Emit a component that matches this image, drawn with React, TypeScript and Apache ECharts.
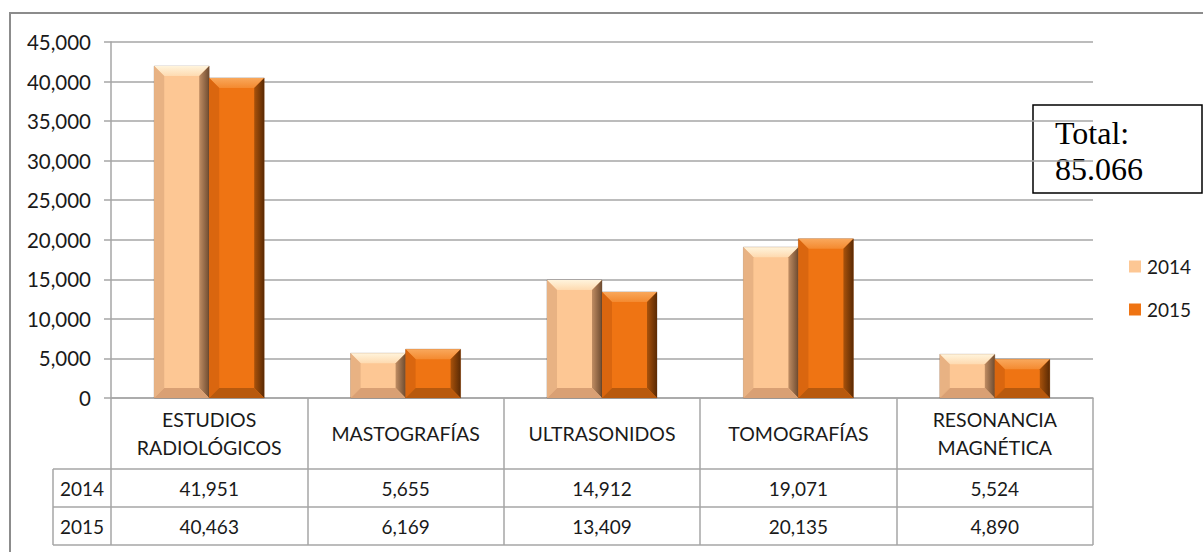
import React, { useEffect, useRef } from "react";
import * as echarts from "echarts";

const categories = ["ESTUDIOS\nRADIOLÓGICOS", "MASTOGRAFÍAS", "ULTRASONIDOS", "TOMOGRAFÍAS", "RESONANCIA\nMAGNÉTICA"];
const years = ["2014", "2015"];
const values2014 = [41951, 5655, 14912, 19071, 5524];
const values2015 = [40463, 6169, 13409, 20135, 4890];
const yMax = 45000;
const yInterval = 5000;
const totalLabel = "Total:";

const W = 1203;
const H = 552;
const GRID_LEFT = 111;
const GRID_RIGHT_X = 1093;
const GRID_TOP = 42;
const GRID_BOTTOM_Y = 398;
const HEADER_H = 71;
const ROW_H = 38;
const ROW_LABEL_X = 53;
const FONT = "Lato, 'Noto Sans', sans-serif";
const LINE = "#a6a6a6";

const fmtComma = (n: number) => String(n).replace(/\B(?=(\d{3})+(?!\d))/g, ",");
const fmtDot = (n: number) => String(n).replace(/\B(?=(\d{3})+(?!\d))/g, ".");

type Pal = { face: string; top: string; topEnd: string; left: string; right: string; rightEnd: string; bottom: string };
const palettes: Pal[] = [
  { face: "#fdc794", top: "#fff4dc", topEnd: "#fedab0", left: "#e8b283", right: "#c08d63", rightEnd: "#6e4b30", bottom: "#d9a074" },
  { face: "#ef7413", top: "#f9a85c", topEnd: "#f48a30", left: "#da660f", right: "#a9520b", rightEnd: "#5a2a04", bottom: "#b8590d" },
];

function makeRenderItem(seriesIdx: number) {
  const pal = palettes[seriesIdx];
  return (params: any, api: any) => {
    const cat = api.value(0);
    const val = api.value(1);
    const pTop = api.coord([cat, val]);
    const pBase = api.coord([cat, 0]);
    const band = api.size([1, 0])[0];
    const w = band * 0.28;
    const x = pTop[0] + (seriesIdx === 0 ? -w : 0);
    const top = pTop[1];
    const bottom = pBase[1];
    const h = bottom - top;
    const b = Math.min(10, h / 2, w / 2);
    const r = x + w;
    return {
      type: "group",
      children: [
        { type: "rect", shape: { x, y: top, width: w, height: h }, style: { fill: pal.face, stroke: "rgba(60,30,10,0.35)", lineWidth: 0.8 } },
        {
          type: "polygon",
          shape: { points: [[x, top], [r, top], [r - b, top + b], [x + b, top + b]] },
          style: { fill: new echarts.graphic.LinearGradient(0, 0, 0, 1, [{ offset: 0, color: pal.top }, { offset: 1, color: pal.topEnd }]) },
        },
        {
          type: "polygon",
          shape: { points: [[x, top], [x + b, top + b], [x + b, bottom - b], [x, bottom]] },
          style: { fill: pal.left },
        },
        {
          type: "polygon",
          shape: { points: [[r, top], [r, bottom], [r - b, bottom - b], [r - b, top + b]] },
          style: { fill: new echarts.graphic.LinearGradient(0, 0, 1, 0, [{ offset: 0, color: pal.right }, { offset: 1, color: pal.rightEnd }]) },
        },
        {
          type: "polygon",
          shape: { points: [[x, bottom], [x + b, bottom - b], [r - b, bottom - b], [r, bottom]] },
          style: { fill: pal.bottom },
        },
      ],
    };
  };
}

export default function App() {
  const ref = useRef<HTMLDivElement>(null);
  useEffect(() => {
    if (!ref.current) return;
    const chart = echarts.init(ref.current, undefined, { renderer: "svg" });
    const bandW = (GRID_RIGHT_X - GRID_LEFT) / categories.length;
    const rowsTop = GRID_BOTTOM_Y + HEADER_H;
    const tableRows = [values2014, values2015];
    const graphics: any[] = [
      { type: "rect", shape: { x: 10, y: 13, width: 1220, height: 580 }, style: { fill: "none", stroke: "#8c8c8c", lineWidth: 2 }, silent: true },
    ];
    for (let k = 0; k <= tableRows.length; k++) {
      const y = rowsTop + k * ROW_H;
      graphics.push({ type: "line", shape: { x1: ROW_LABEL_X, y1: y, x2: GRID_RIGHT_X, y2: y }, style: { stroke: LINE, lineWidth: 1.5 } });
    }
    graphics.push({ type: "line", shape: { x1: ROW_LABEL_X, y1: rowsTop, x2: ROW_LABEL_X, y2: rowsTop + tableRows.length * ROW_H }, style: { stroke: LINE, lineWidth: 1.5 } });
    tableRows.forEach((row, k) => {
      const cy = rowsTop + k * ROW_H + ROW_H / 2;
      graphics.push({
        type: "text",
        x: (ROW_LABEL_X + GRID_LEFT) / 2,
        y: cy,
        style: { text: years[k], fill: "#1a1a1a", font: `19px ${FONT}`, align: "center", verticalAlign: "middle" },
      });
      row.forEach((v, i) => {
        graphics.push({
          type: "text",
          x: GRID_LEFT + bandW * (i + 0.5),
          y: cy,
          style: { text: fmtComma(v), fill: "#1a1a1a", font: `19px ${FONT}`, align: "center", verticalAlign: "middle" },
        });
      });
    });
    const total = values2015.reduce((a, c) => a + c, 0);
    graphics.push({
      type: "group",
      children: [
        { type: "rect", shape: { x: 1033, y: 105, width: 169, height: 88 }, style: { fill: "#fff", stroke: "#000", lineWidth: 1.5 } },
        {
          type: "text",
          x: 1055,
          y: 115,
          style: { text: `${totalLabel}\n${fmtDot(total)}`, fill: "#000", font: "32px 'Liberation Serif', serif", lineHeight: 36, verticalAlign: "top" },
        },
      ],
    });

    chart.setOption({
      animation: false,
      backgroundColor: "#ffffff",
      grid: { left: GRID_LEFT, right: W - GRID_RIGHT_X, top: GRID_TOP, bottom: H - GRID_BOTTOM_Y, containLabel: false },
      legend: {
        data: years,
        orient: "vertical",
        left: 1129,
        top: 257,
        padding: 0,
        itemWidth: 12,
        itemHeight: 12,
        itemGap: 24,
        icon: "rect",
        textStyle: { fontFamily: FONT, fontSize: 19, color: "#1a1a1a", padding: [0, 0, 0, 1] },
      },
      xAxis: {
        type: "category",
        data: categories,
        axisLine: { show: true, lineStyle: { color: LINE, width: 1.5 } },
        axisTick: { show: true, interval: 0, length: HEADER_H + ROW_H * 2, inside: false, lineStyle: { color: LINE, width: 1.5 } },
        axisLabel: {
          interval: 0,
          margin: HEADER_H / 2,
          verticalAlign: "middle",
          fontFamily: FONT,
          fontSize: 19.5,
          lineHeight: 28,
          color: "#1a1a1a",
          align: "center",
        },
      },
      yAxis: {
        type: "value",
        min: 0,
        max: yMax,
        interval: yInterval,
        axisLine: { show: true, lineStyle: { color: LINE, width: 1.5 } },
        axisTick: { show: true, length: 7, lineStyle: { color: LINE, width: 1.5 } },
        splitLine: { show: true, lineStyle: { color: LINE, width: 1.5 } },
        axisLabel: { formatter: (v: number) => fmtComma(v), fontFamily: FONT, fontSize: 20.5, color: "#1a1a1a", margin: 20 },
      },
      series: [values2014, values2015].map((vals, s) => ({
        type: "custom",
        name: years[s],
        coordinateSystem: "cartesian2d",
        itemStyle: { color: palettes[s].face },
        encode: { x: 0, y: 1 },
        data: vals.map((v, i) => [i, v]),
        renderItem: makeRenderItem(s),
        z: 3,
      })),
      graphic: graphics,
    });
    return () => chart.dispose();
  }, []);
  return <div ref={ref} style={{ position: "fixed", left: 0, top: 0, width: W, height: H }} />;
}
